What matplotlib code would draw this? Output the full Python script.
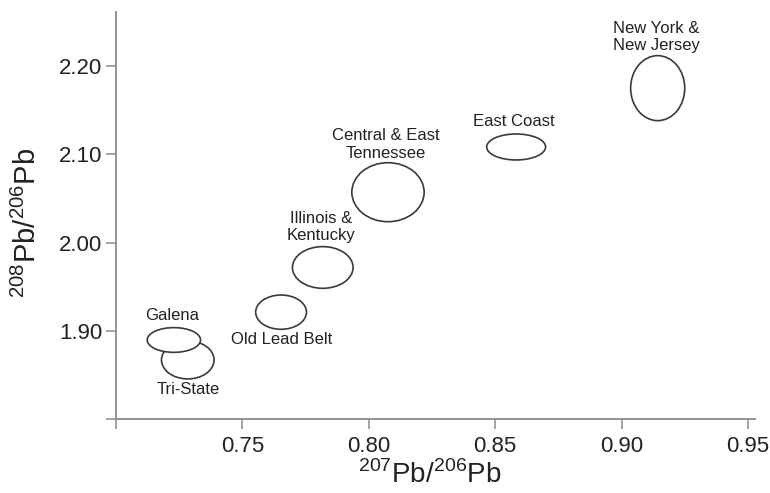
import matplotlib
matplotlib.use("Agg")
import matplotlib.pyplot as plt
from matplotlib.patches import Ellipse

plt.rcParams['font.family'] = ['Liberation Sans', 'DejaVu Sans']
plt.rcParams['mathtext.fontset'] = 'custom'
plt.rcParams['mathtext.rm'] = 'Liberation Sans'

# Data (region ellipses: center x, center y, width, height)
regions = ["Tri-State", "Galena", "Old Lead Belt", "Illinois &\nKentucky",
           "Central & East\nTennessee", "East Coast", "New York &\nNew Jersey"]
cx = [0.7284, 0.7229, 0.7653, 0.7818, 0.8076, 0.8583, 0.9143]
cy = [1.8672, 1.8898, 1.9213, 1.9719, 2.0571, 2.1083, 2.1749]
ew = [0.0208, 0.0211, 0.0201, 0.0240, 0.0286, 0.0233, 0.0214]
eh = [0.0430, 0.0280, 0.0388, 0.0472, 0.0668, 0.0294, 0.0736]
# label anchor positions (data coords)
lx = [0.7286, 0.7222, 0.7655, 0.7810, 0.8067, 0.8575, 0.9139]
ly = [1.8332, 1.9175, 1.8898, 2.0177, 2.1111, 2.1366, 2.2328]

xticks = [0.70, 0.75, 0.80, 0.85, 0.90, 0.95]
xticklabels = ["", "0.75", "0.80", "0.85", "0.90", "0.95"]
yticks = [1.80, 1.90, 2.00, 2.10, 2.20]
yticklabels = ["", "1.90", "2.00", "2.10", "2.20"]

fig = plt.figure(figsize=(7.7, 4.93), dpi=100)
ax = fig.add_axes([116/770, 1-419.3/493, (755-116)/770, (419.3-12)/493])
ax.set_xlim(0.70, 0.9528)
ax.set_ylim(1.80, 2.2611)

for i, (x, y, w, h) in enumerate(zip(cx, cy, ew, eh)):
    ax.add_patch(Ellipse((x, y), w, h, facecolor='white', edgecolor='#3a3a3a',
                         linewidth=1.2, zorder=2 + i * 0.01))

for name, x, y in zip(regions, lx, ly):
    ax.text(x, y, name, ha='center', va='center', fontsize=12, color='#222222',
            linespacing=1.2, zorder=3)

ax.spines['top'].set_visible(False)
ax.spines['right'].set_visible(False)
for s in ['left', 'bottom']:
    ax.spines[s].set_color('#8a8a8a')
    ax.spines[s].set_linewidth(1.3)

ax.set_xticks(xticks)
ax.set_xticklabels(xticklabels)
ax.set_yticks(yticks)
ax.set_yticklabels(yticklabels)
ax.tick_params(axis='both', which='major', labelsize=16, colors='#8a8a8a',
               labelcolor='#222222', length=7, width=1.1, direction='out')
ax.tick_params(axis='y', pad=3)
ax.tick_params(axis='x', pad=5)

ax.set_xlabel(r'$^{\mathregular{207}}$Pb/$^{\mathregular{206}}$Pb', fontsize=20, color='#222222')
ax.set_ylabel(r'$^{\mathregular{208}}$Pb/$^{\mathregular{206}}$Pb', fontsize=21, color='#222222')
ax.xaxis.set_label_coords(0.491, -0.10)
ax.yaxis.set_label_coords(-0.116, 0.482)

fig.savefig("out.png", dpi=100, facecolor='white')
